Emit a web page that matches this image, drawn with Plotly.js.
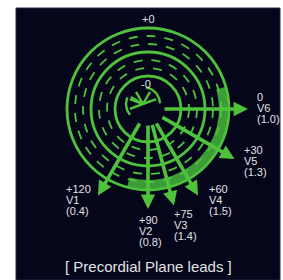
<!DOCTYPE html>
<html>
<head>
<meta charset="utf-8">
<script src="https://cdn.plot.ly/plotly-3.0.1.min.js"></script>
<style>
html,body{margin:0;padding:0;background:#ffffff;}
#chart{width:283px;height:280px;}
</style>
</head>
<body>
<div id="chart"></div>
<script>
// ---- data ----
var leads = ['V6', 'V5', 'V4', 'V3', 'V2', 'V1'];
var leadAngles = [0, 30, 60, 75, 90, 120];          // degrees, clockwise from right
var angleLabels = ['0', '+30', '+60', '+75', '+90', '+120'];
var magnitudes = [1.0, 1.3, 1.5, 1.4, 0.8, 0.4];
var ringRadii = [33, 41, 49, 57, 65, 73, 81];
var ringSolid = [true, false, false, true, false, false, true];
var bandAngles = [-16, 105];
var bandRadii = [71, 80];

// ---- style ----
var GREEN = '#4fc23c';
var TEXT = '#e2e2e2';
var FONT = 'Liberation Sans, Arial, sans-serif';
var arrowLen = 100, arrowStart = 15;
var labelOffsets = [[7, -1], [7, 2], [9, 4], [-2, 19], [-11, 22], [-34, 4]]; // px (dx, dy downward)

function pt(r, deg) {
  var a = deg * Math.PI / 180;
  return [r * Math.cos(a), -r * Math.sin(a)];
}

var shapes = [];
// dark panel
shapes.push({type: 'rect', xref: 'paper', yref: 'paper', x0: 16 / 283, x1: 280 / 283, y0: 0, y1: 1 - 8 / 280,
  fillcolor: '#05061a', line: {color: '#1c2b4d', width: 1}, layer: 'below'});
// rings
ringRadii.forEach(function (r, i) {
  shapes.push({type: 'circle', xref: 'x', yref: 'y', x0: -r, x1: r, y0: -r, y1: r,
    line: {color: GREEN, width: ringSolid[i] ? 2.8 : 1.8, dash: ringSolid[i] ? 'solid' : 'dash'}});
});

var traces = [];
// highlighted band
(function () {
  var xs = [], ys = [];
  for (var a = bandAngles[0]; a <= bandAngles[1]; a += 1) { var p = pt(bandRadii[1], a); xs.push(p[0]); ys.push(p[1]); }
  for (var a2 = bandAngles[1]; a2 >= bandAngles[0]; a2 -= 1) { var q = pt(bandRadii[0], a2); xs.push(q[0]); ys.push(q[1]); }
  traces.push({type: 'scatter', x: xs, y: ys, mode: 'lines', fill: 'toself', fillcolor: 'rgba(70,185,60,0.85)',
    line: {width: 0}, hoverinfo: 'skip', showlegend: false});
})();

// small central wheel figure
(function () {
  var c = [-5, 5];
  var segs = [];
  function arc(r, a0, a1) {
    var xs = [], ys = [];
    for (var a = a0; a <= a1; a += 3) { var p = pt(r, a); xs.push(c[0] + p[0]); ys.push(c[1] + p[1]); }
    return [xs, ys];
  }
  segs.push(arc(17, -80, -2));
  segs.push(arc(17, 140, 205));
  var spokes = [-150, -120, -60, -20, 160, 200];
  spokes.forEach(function (a) {
    var p = pt(14, a);
    segs.push([[c[0], c[0] + p[0]], [c[1], c[1] + p[1]]]);
  });
  segs.forEach(function (s) {
    traces.push({type: 'scatter', x: s[0], y: s[1], mode: 'lines', line: {color: GREEN, width: 2.4},
      hoverinfo: 'skip', showlegend: false});
  });
})();

var annotations = [];
leads.forEach(function (name, i) {
  var tip = pt(arrowLen, leadAngles[i]);
  var tail = pt(arrowStart, leadAngles[i]);
  annotations.push({x: tip[0], y: tip[1], ax: tail[0], ay: tail[1], xref: 'x', yref: 'y', axref: 'x', ayref: 'y',
    showarrow: true, arrowhead: 2, arrowsize: 0.8, arrowwidth: 3.6, arrowcolor: GREEN, text: ''});
  var lines = [angleLabels[i], name, '(' + magnitudes[i].toFixed(1) + ')'];
  var off = labelOffsets[i];
  lines.forEach(function (t, k) {
    annotations.push({x: tip[0] + off[0], y: tip[1] - off[1] - (k - 1) * 11, xref: 'x', yref: 'y', text: t,
      showarrow: false, xanchor: 'left', yanchor: 'middle',
      font: {family: FONT, size: 11, color: TEXT}});
  });
});
// ring labels
var outerLbl = pt(90, -90), innerLbl = pt(25, -90);
annotations.push({x: outerLbl[0], y: outerLbl[1], xref: 'x', yref: 'y', text: '+0', showarrow: false,
  font: {family: FONT, size: 11, color: TEXT}});
annotations.push({x: innerLbl[0] - 2, y: innerLbl[1], xref: 'x', yref: 'y', text: '-0', showarrow: false,
  font: {family: FONT, size: 11, color: TEXT}});
// title
annotations.push({x: 0, y: -157, xref: 'x', yref: 'y', text: '[ Precordial Plane leads ]', showarrow: false,
  font: {family: FONT, size: 15, color: TEXT}});

var layout = {
  width: 283, height: 280,
  margin: {l: 0, r: 0, t: 0, b: 0},
  paper_bgcolor: '#ffffff', plot_bgcolor: 'rgba(0,0,0,0)',
  xaxis: {range: [-148, 135], visible: false, fixedrange: true},
  yaxis: {range: [-171, 109], visible: false, fixedrange: true},
  shapes: shapes, annotations: annotations, showlegend: false
};
Plotly.newPlot('chart', traces, layout, {displayModeBar: false, staticPlot: true});
</script>
</body>
</html>
